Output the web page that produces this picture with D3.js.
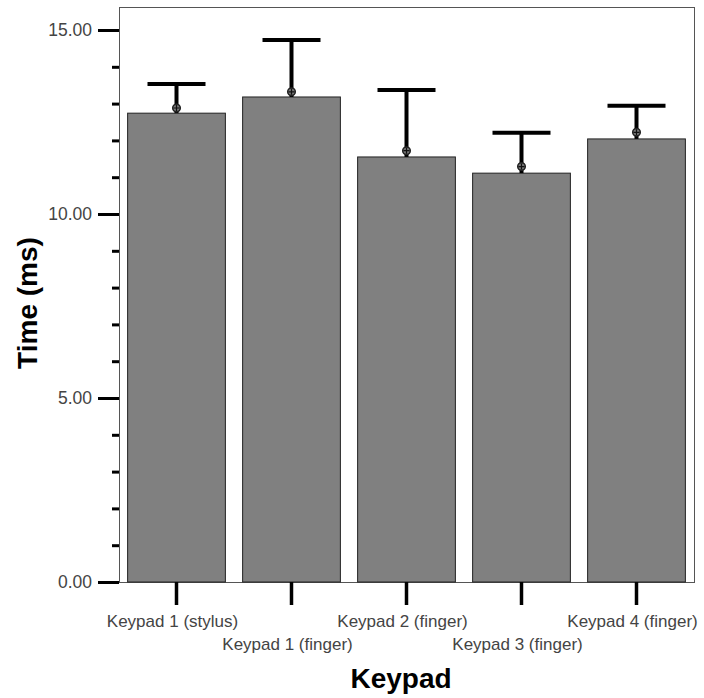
<!DOCTYPE html>
<html>
<head>
<meta charset="utf-8">
<script src="https://cdn.jsdelivr.net/npm/d3@7"></script>
<style>
  body { margin: 0; background: #fff; }
  text { font-family: "Liberation Sans", Arial, sans-serif; }
</style>
</head>
<body>
<div id="chart"></div>
<script>
// data
const categories = ['Keypad 1 (stylus)', 'Keypad 1 (finger)', 'Keypad 2 (finger)', 'Keypad 3 (finger)', 'Keypad 4 (finger)'];
const barValues = [12.74, 13.18, 11.55, 11.11, 12.04];
const markerValues = [12.88, 13.32, 11.72, 11.29, 12.22];
const errorTops = [13.53, 14.73, 13.37, 12.21, 12.94];
const yTicks = [0, 5, 10, 15];
const yMinorTicks = [1, 2, 3, 4, 6, 7, 8, 9, 11, 12, 13, 14];

const width = 704;
const height = 698;
const margin = { top: 7, right: 10, bottom: 116, left: 119 };

const svg = d3.select('#chart').append('svg')
    .attr('width', width)
    .attr('height', height);

const x = d3.scaleBand()
    .domain(categories)
    .range([margin.left, width - margin.right])
    .paddingInner(0.15)
    .paddingOuter(0.075);

const y = d3.scaleLinear()
    .domain([0, 15.625])
    .range([height - margin.bottom, margin.top]);

const data = categories.map((c, i) => ({
    cat: c, bar: barValues[i], mark: markerValues[i], top: errorTops[i]
}));

// frame
svg.append('rect')
    .attr('x', margin.left + 0.5)
    .attr('y', margin.top + 0.5)
    .attr('width', width - margin.right - margin.left)
    .attr('height', y(0) - margin.top)
    .attr('fill', 'none')
    .attr('stroke', '#555')
    .attr('stroke-width', 1);

// bars
svg.selectAll('.bar')
    .data(data)
    .enter().append('rect')
    .attr('class', 'bar')
    .attr('x', d => x(d.cat))
    .attr('y', d => y(d.bar))
    .attr('width', x.bandwidth())
    .attr('height', d => y(0) - y(d.bar))
    .attr('fill', '#808080')
    .attr('stroke', '#222')
    .attr('stroke-width', 1);

// error bars
const capHalf = 29;
const err = svg.selectAll('.err')
    .data(data)
    .enter().append('g')
    .attr('class', 'err');

err.append('line')
    .attr('x1', d => x(d.cat) + x.bandwidth() / 2)
    .attr('x2', d => x(d.cat) + x.bandwidth() / 2)
    .attr('y1', d => y(d.bar))
    .attr('y2', d => y(d.top))
    .attr('stroke', '#000')
    .attr('stroke-width', 4);

err.append('line')
    .attr('x1', d => x(d.cat) + x.bandwidth() / 2 - capHalf)
    .attr('x2', d => x(d.cat) + x.bandwidth() / 2 + capHalf)
    .attr('y1', d => y(d.top))
    .attr('y2', d => y(d.top))
    .attr('stroke', '#000')
    .attr('stroke-width', 4);

// mean markers
err.append('circle')
    .attr('cx', d => x(d.cat) + x.bandwidth() / 2)
    .attr('cy', d => y(d.mark))
    .attr('r', 3.8)
    .attr('fill', '#777')
    .attr('stroke', '#222')
    .attr('stroke-width', 1.5);

err.append('path')
    .attr('d', d => {
        const cx = x(d.cat) + x.bandwidth() / 2, cy = y(d.mark);
        return `M${cx - 3},${cy}H${cx + 3}M${cx},${cy - 3}V${cy + 3}`;
    })
    .attr('stroke', '#111')
    .attr('stroke-width', 1.2);

// y axis
const yAxis = svg.append('g')
    .attr('transform', `translate(${margin.left},0)`)
    .call(d3.axisLeft(y).tickValues(yTicks).tickFormat(d3.format('.2f')).tickSize(21).tickPadding(6));
yAxis.select('.domain').remove();
yAxis.selectAll('.tick line').attr('stroke', '#000').attr('stroke-width', 3);
yAxis.selectAll('.tick text').attr('fill', '#444').style('font-size', '17.5px');

const yMinor = svg.append('g')
    .attr('transform', `translate(${margin.left},0)`)
    .call(d3.axisLeft(y).tickValues(yMinorTicks).tickSize(7).tickFormat(''));
yMinor.select('.domain').remove();
yMinor.selectAll('.tick line').attr('stroke', '#000').attr('stroke-width', 3);

// x axis
const xAxis = svg.append('g')
    .attr('transform', `translate(0,${y(0)})`)
    .call(d3.axisBottom(x).tickSize(23).tickPadding(0));
xAxis.select('.domain').remove();
xAxis.selectAll('.tick line').attr('stroke', '#000').attr('stroke-width', 3.5);
xAxis.selectAll('.tick text')
    .attr('fill', '#444')
    .style('font-size', '17px')
    .attr('dy', null)
    .attr('x', -4)
    .attr('y', (d, i) => i % 2 === 0 ? 45 : 68);

// axis titles
svg.append('text')
    .attr('x', 401)
    .attr('y', 688)
    .attr('text-anchor', 'middle')
    .style('font-size', '28px')
    .style('font-weight', 'bold')
    .text('Keypad');

svg.append('text')
    .attr('transform', `translate(37,303) rotate(-90)`)
    .attr('text-anchor', 'middle')
    .style('font-size', '28px')
    .style('font-weight', 'bold')
    .text('Time (ms)');
</script>
</body>
</html>
